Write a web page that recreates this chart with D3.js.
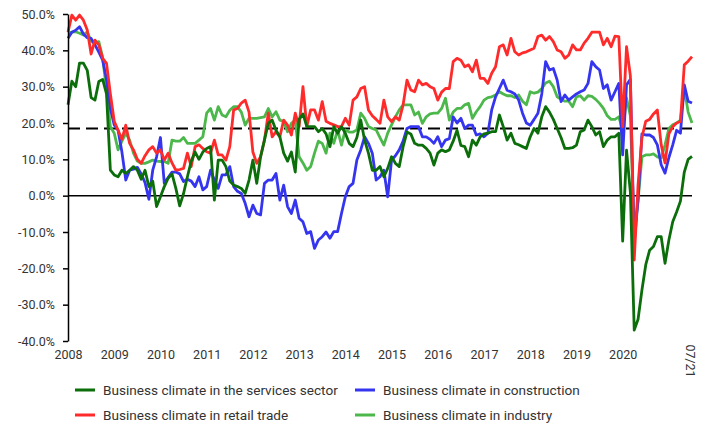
<!DOCTYPE html>
<html>
<head>
<meta charset="utf-8">
<script src="https://cdn.jsdelivr.net/npm/d3@7"></script>
<style>
body{margin:0;background:#fff;}
text{font-family:Roboto,"Noto Sans",sans-serif;fill:#333;}
.axis text{font-size:12.5px;}
.legend_label{font-size:13.6px;}
</style>
</head>
<body>
<div id="content"></div>
<script>
//monthly values from 01/2008 to 07/2021, in percent
var startYear=2008;
var yearLabels=['2008','2009','2010','2011','2012','2013','2014','2015','2016','2017','2018','2019','2020'];
var lastLabel='07/21';
var yTicks=[-40,-30,-20,-10,0,10,20,30,40,50];
var average=18.5;

var services=[
25,31.5,30,36.5,36.5,34.5,27,26.3,31.4,32,28,7,
5.7,5.2,7,6.1,7,8,7,4.5,7,2.5,4,-3,
-0.3,2.5,4.8,6,2,-2.8,0.6,5.2,9.5,12,10,12,
13,13.5,-1.2,9.8,9.8,8,4,2.9,2.5,2,0.6,4.3,
9.8,3.4,10.7,15.3,19.9,20.8,18,16.2,11.7,9.5,12,6.5,
21,22.5,19,19,19,17.6,18.5,17,13.5,19,17.2,19,
17.2,14.4,13.5,16,20.8,15.3,11.7,7,7,8,5.2,7.5,
10.7,8.9,8,13.5,17.5,17,14.4,13.9,13.9,13,11.7,8.4,
11.7,12.6,12.1,12.6,15,18,13.8,13.5,10.7,15.3,13.9,16.2,
17,17.2,17.6,17.6,22.2,19,15.3,17.2,14.4,14,13.5,13,
16.2,18.5,17.2,21.7,24.5,23,21,18.5,16,13,13,13.2,
13.9,17.6,18.1,20.8,19,16.7,17.6,13.5,15.3,16.2,16.2,17.2,
-12.5,12.5,1,-37,-34,-26,-19,-15,-14,-11.3,-11.3,-18.6,
-12.2,-7.2,-4.5,-1.5,6.5,10,10.8];

var construction=[
43.3,45,45.5,46.5,44.5,43.5,43.3,41.5,39.5,37.3,32,24,
19.5,18,12,4.3,7,7.3,7.8,6,3.6,-1,7,10.7,
16,3.4,5,6.5,6.5,6,3.9,4.5,4,2.5,5.2,1.6,
2.5,7,4.3,2,5.7,5.7,8,2.5,1.2,0.6,-2.1,-5.8,
-2.6,-4.9,-5.3,3.4,4.3,4.3,6.1,-1.2,2.9,-3,-4.9,-1.2,
-6.2,-7.2,-10.4,-9.9,-14.5,-12.2,-11.3,-10,-11.7,-9.9,-9.9,-4.9,
-0.3,2.5,3.4,9.8,12.6,16.2,14.4,11.7,4.3,5.2,7,-0.3,
9.8,11,12.6,15,18.5,19,19,19,16.2,16.2,15.5,14.4,
16.2,13.5,15.3,15.7,21.7,20,21.3,18.5,19.4,19.4,16.7,17,
16.2,17.2,23.6,27.2,29.5,31.8,29,28.6,28,26.3,22.7,20,
19.4,21,22.7,28,36.9,34.6,35,31.8,25.9,27.7,26.3,27.2,
28,28.6,29.1,30.9,36.9,35.5,34.6,29.5,30.5,26.3,28.6,30.9,
11.2,30.5,32,-13.1,-1.2,17,16.7,16.7,16,14,8.5,6.2,
10.5,14,18,17.2,30.5,26,25.5];

var retail=[
45,49.7,48.3,49.7,48.3,45.6,39,42.8,41.5,37.8,36.4,28,
20.5,18,15.5,19.4,14.4,12.6,10,8.9,11,12.6,13.5,11.7,
12.6,9.8,11.7,9,7,7.2,7.5,11.7,8,13.5,14,13,
12.1,11.7,15.3,11.2,11.2,9.8,13.5,23.6,24,25.5,26.3,23,
12,8.9,10.7,15.3,22.7,16.2,17.6,16.2,20.8,19.4,16.7,22.7,
19,30,19,23.6,23.6,20.8,25.9,20.5,19.9,19.5,19,19,
21.3,19.4,26.3,27.2,29.5,30,23.6,22,21,19.9,26.3,21.7,
20.4,21.7,20.8,25,31.8,29.1,28.6,31.8,30.5,30.9,30,29.5,
26.3,28.5,29.5,29.5,36.9,37.8,37.3,35.5,36,34.1,37.3,32.3,
32.3,30.9,33.7,35.5,41,41.5,38.7,43.3,39.6,38.7,39.3,39.6,
40.1,40.6,43.8,44.2,42.8,43.8,42.4,40.1,39.6,37.8,38.7,41.5,
40.1,40.1,42,43.3,45,45,45,41.5,43.3,41,43.9,43.8,
19,41,33,-17.7,3,16,20.5,21,22.5,23.6,14,9,
17,19,20,20.4,36,37,38.3];

var industry=[
44.7,45,45.1,44.7,44.2,45.1,42.5,41.9,42.4,38,29,19,
17.2,12.6,15,17.2,15.3,11.7,9.5,8.9,8.9,9.3,9.8,9.5,
9.4,9.4,8.9,15.3,15,15,16,14.4,14.4,14.4,15.3,16.2,
22.7,24,20.8,24.5,22.2,21.7,23.5,24.5,24.5,23,19.4,21.3,
21.3,21.3,21.5,21.7,24,21.7,23.1,20.8,20.4,17.6,19.9,20.8,
10.7,9,7,8,11.7,15,14.4,11.7,17.2,14.4,18.1,13.9,
18.1,17.5,17.5,18.1,22.7,21.3,19,18.5,18.1,16,13.9,17.2,
19.5,21.7,23.6,25,25,25,22.2,23,19.9,21.7,22.5,22.7,
22.7,24,26.8,20.8,23,24,24,25,25.4,21.3,23.1,24.5,
26.3,27,27.2,27.7,28.6,28,27.5,27.5,27,27.7,26,25,
28.6,28.2,28.5,29.5,31,31.5,30,27.2,26.5,26,26,24.5,
27.2,27.5,26.3,27.5,27.3,26.5,25.4,24,22,21,21,21.7,
18,26.9,22,-10.4,-1.2,10.7,11.2,11.2,11.5,10.7,10.4,14,
18.5,19.5,20,20.8,29.5,23,20];

var seriesNames=['Business climate in the services sector','Business climate in construction','Business climate in retail trade','Business climate in industry'];
var seriesColors=['#0b6e0b','#3535f0','#ff2b2b','#4cb84c'];

//chart constants
var svg_width=712;
var svg_height=426;
var plot={left:68, right:692, top:14, bottom:341};

var svg=d3.select('#content').append('svg')
	.attr('width',svg_width)
	.attr('height',svg_height);

var xScale=d3.scaleLinear().domain([0,services.length-1]).range([plot.left,plot.right]);
var yScale=d3.scaleLinear().domain([-40,50]).range([plot.bottom,plot.top]);

//draws y axis with percent labels
function drawYaxis(){
	var g=svg.append('g')
		.attr('class','axis')
		.attr('transform','translate('+plot.left+',0)')
		.call(d3.axisLeft(yScale)
			.tickValues(yTicks)
			.tickSize(5)
			.tickSizeOuter(0)
			.tickPadding(8)
			.tickFormat(function(d){return d.toFixed(1)+'%';}));
	g.select('.domain').attr('stroke','#000').attr('stroke-width',1.5);
	g.selectAll('.tick line').attr('stroke','#000').attr('stroke-width',1.5);
}

//draws year labels below the chart, no axis line
function drawXaxis(){
	var g=svg.append('g')
		.attr('class','axis')
		.attr('transform','translate(0,'+plot.bottom+')')
		.call(d3.axisBottom(xScale)
			.tickValues(yearLabels.map(function(d,i){return i*12;}))
			.tickSize(0)
			.tickPadding(9)
			.tickFormat(function(d,i){return yearLabels[i];}));
	g.select('.domain').remove();

	svg.append('text')
		.attr('class','axis')
		.attr('transform','translate('+(xScale(services.length-1)-2)+',361) rotate(90)')
		.attr('text-anchor','middle')
		.attr('dominant-baseline','central')
		.style('font-size','12.5px')
		.text(lastLabel);
}

//zero line and dashed long-term average
function drawRefLines(){
	svg.append('line')
		.attr('x1',xScale(0)).attr('x2',xScale(services.length-1))
		.attr('y1',yScale(0)).attr('y2',yScale(0))
		.attr('stroke','#000').attr('stroke-width',1.5);

	svg.append('line')
		.attr('x1',xScale(0)).attr('x2',xScale(services.length-1))
		.attr('y1',yScale(average)).attr('y2',yScale(average))
		.attr('stroke','#000').attr('stroke-width',2)
		.attr('stroke-dasharray','12,6');
}

function drawLines(){
	var line=d3.line()
		.x(function(d,i){return xScale(i);})
		.y(function(d){return yScale(d);});

	var order=[services,construction,retail,industry];
	//drawing order: industry and construction below, services and retail on top
	[3,1,2,0].forEach(function(k){
		svg.append('path')
			.datum(order[k])
			.attr('fill','none')
			.attr('stroke',seriesColors[k])
			.attr('stroke-width',2.8)
			.attr('stroke-linejoin','round')
			.attr('d',line);
	});
}

//two column legend under the chart
function drawLegend(){
	var pos=[[75,390],[355,390],[75,415],[355,415]];
	var legendOrder=[0,1,2,3];
	legendOrder.forEach(function(k,i){
		svg.append('line')
			.attr('x1',pos[i][0]).attr('x2',pos[i][0]+20)
			.attr('y1',pos[i][1]).attr('y2',pos[i][1])
			.attr('stroke',seriesColors[k]).attr('stroke-width',3);
		svg.append('text')
			.attr('class','legend_label')
			.attr('x',pos[i][0]+28)
			.attr('y',pos[i][1])
			.attr('dominant-baseline','central')
			.text(seriesNames[k]);
	});
}

drawRefLines();
drawLines();
drawYaxis();
drawXaxis();
drawLegend();
</script>
</body>
</html>
